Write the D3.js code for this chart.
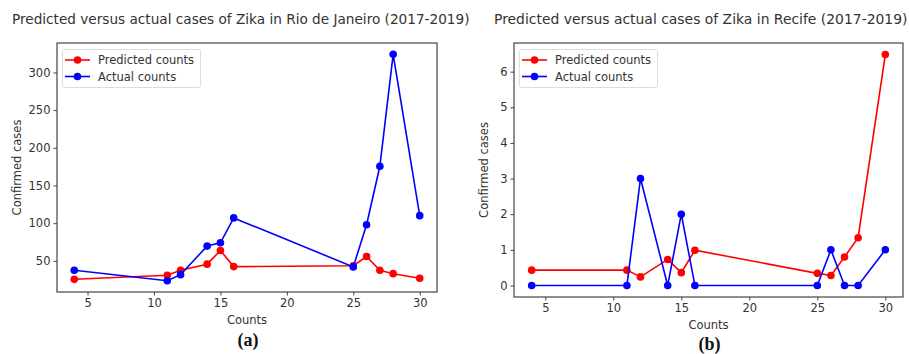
<!DOCTYPE html>
<html><head><meta charset="utf-8">
<script src="https://cdn.jsdelivr.net/npm/d3@7"></script>
<style>body{margin:0;background:#fff}svg{display:block}text{fill:#333}</style>
</head><body><svg id="c" width="909" height="354"></svg>
<script>
const counts = [4, 11, 12, 14, 15, 16, 25, 26, 27, 28, 30];
const rioPredicted = [25.5, 31, 37.6, 45.6, 63.8, 42.4, 43.5, 55.8, 37.6, 33, 26.9];
const rioActual = [37.6, 23.7, 31.7, 69.6, 74, 107, 42, 98, 175.5, 324, 110];
const recifePredicted = [0.43, 0.43, 0.24, 0.73, 0.36, 0.99, 0.34, 0.28, 0.8, 1.34, 6.48];
const recifeActual = [0, 0, 3, 0, 2, 0, 0, 1, 0, 0, 1];
const xTicks = [5, 10, 15, 20, 25, 30];
const rioYTicks = [50, 100, 150, 200, 250, 300];
const recifeYTicks = [0, 1, 2, 3, 4, 5, 6];
const seriesNames = ["Predicted counts", "Actual counts"];
const seriesColors = ["#ff0000", "#0000ff"];
const panels = [
  {title: "Predicted versus actual cases of Zika in Rio de Janeiro (2017-2019)", tag: "(a)",
   pred: rioPredicted, act: rioActual, yTicks: rioYTicks,
   box: {l: 57, r: 437, t: 43, b: 292}, titleX: 12, titleW: 458, ylabX: 17},
  {title: "Predicted versus actual cases of Zika in Recife (2017-2019)", tag: "(b)",
   pred: recifePredicted, act: recifeActual, yTicks: recifeYTicks,
   box: {l: 514, r: 903, t: 43, b: 297}, titleX: 494, titleW: 414, ylabX: 484}
];
const SANS = "'DejaVu Sans', sans-serif";
const svg = d3.select("#c");
function pad(ext){const d=(ext[1]-ext[0])*0.05;return [ext[0]-d, ext[1]+d];}
panels.forEach(p => {
  const b = p.box;
  const x = d3.scaleLinear().domain(pad(d3.extent(counts))).range([b.l, b.r]);
  const allY = p.pred.concat(p.act);
  const y = d3.scaleLinear().domain(pad(d3.extent(allY))).range([b.b, b.t]);
  const g = svg.append("g");
  const t = g.append("text").attr("x", p.titleX).attr("y", 23.5).style("font-family", SANS).style("font-size", "12.5px").text(p.title);
  const w = t.node().getComputedTextLength();
  t.style("font-size", (12.5 * p.titleW / w) + "px");
  const xa = g.append("g").attr("transform", `translate(0,${b.b})`)
    .call(d3.axisBottom(x).tickValues(xTicks).tickSize(3.5).tickPadding(3));
  const ya = g.append("g").attr("transform", `translate(${b.l},0)`)
    .call(d3.axisLeft(y).tickValues(p.yTicks).tickSize(3.5).tickPadding(3));
  [xa, ya].forEach(a => {
    a.select(".domain").remove();
    a.selectAll("line").attr("stroke", "#444");
    a.selectAll("text").style("font-size", "11.5px").style("fill", "#333").style("font-family", SANS);
  });
  g.append("rect").attr("x", b.l).attr("y", b.t).attr("width", b.r - b.l).attr("height", b.b - b.t)
    .attr("fill", "none").attr("stroke", "#444").attr("stroke-width", 1.2);
  const cx = (b.l + b.r) / 2;
  g.append("text").attr("x", cx).attr("y", b.b + 32).attr("text-anchor", "middle")
    .style("font-family", SANS).style("font-size", "11.5px").text("Counts");
  g.append("text").attr("transform", `translate(${p.ylabX},${(b.t + b.b) / 2}) rotate(-90)`)
    .attr("text-anchor", "middle").attr("dominant-baseline", "middle")
    .style("font-family", SANS).style("font-size", "11.5px").text("Confirmed cases");
  g.append("text").attr("x", cx + 1).attr("y", b.b + (p.tag === "(a)" ? 54 : 53)).attr("text-anchor", "middle")
    .style("font-family", "'Liberation Serif', 'Times New Roman', serif").style("font-weight", "bold")
    .style("font-size", "18px").style("fill", "#111").text(p.tag);
  const line = d3.line().x((d, i) => x(counts[i])).y(d => y(d));
  [p.pred, p.act].forEach((s, k) => {
    g.append("path").datum(s).attr("d", line).attr("fill", "none").attr("stroke", seriesColors[k]).attr("stroke-width", 1.6);
    g.selectAll(null).data(s).enter().append("circle")
      .attr("cx", (d, i) => x(counts[i])).attr("cy", d => y(d)).attr("r", 3.8).attr("fill", seriesColors[k]);
  });
  const lg = g.append("g");
  lg.append("rect").attr("x", b.l + 5.5).attr("y", b.t + 6.5).attr("width", 138).attr("height", 38)
    .attr("rx", 2).attr("fill", "#fff").attr("fill-opacity", 0.8).attr("stroke", "#ddd");
  seriesNames.forEach((n, k) => {
    const yy = b.t + 17 + k * 16.5;
    lg.append("line").attr("x1", b.l + 8).attr("x2", b.l + 33).attr("y1", yy).attr("y2", yy)
      .attr("stroke", seriesColors[k]).attr("stroke-width", 1.6);
    lg.append("circle").attr("cx", b.l + 20.5).attr("cy", yy).attr("r", 3.8).attr("fill", seriesColors[k]);
    lg.append("text").attr("x", b.l + 41).attr("y", yy).attr("dominant-baseline", "central")
      .style("font-family", SANS).style("font-size", "11.5px").text(n);
  });
});
</script></body></html>
